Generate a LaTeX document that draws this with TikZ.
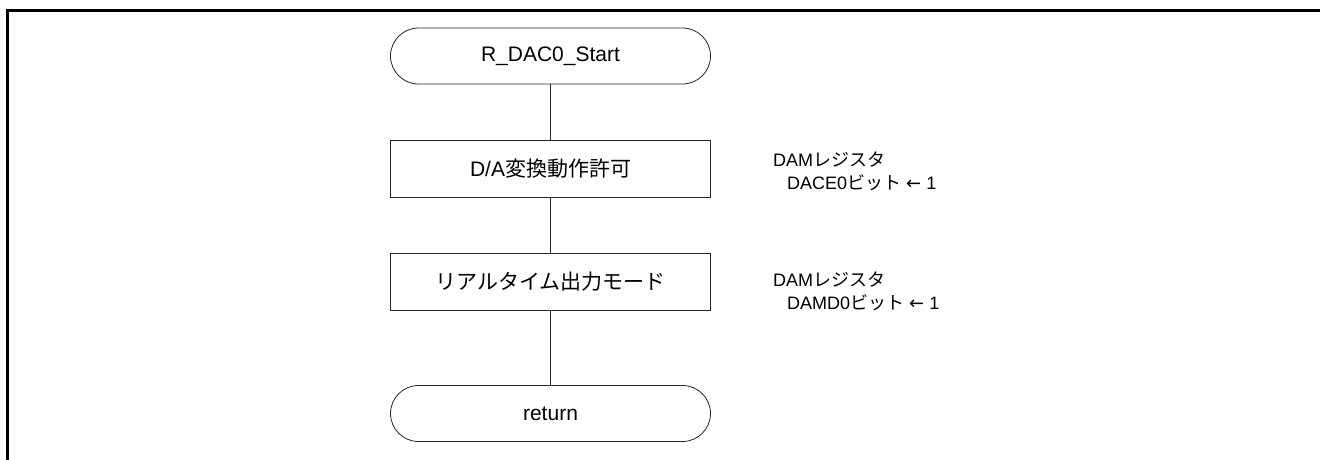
\documentclass[tikz,border=0pt]{standalone}
\usepackage{fontspec}
\setmainfont{Liberation Sans}
\newfontfamily\jp{Noto Sans CJK JP}
\newfontfamily\dv{DejaVu Sans}
\begin{document}
\begin{tikzpicture}[x=1pt,y=-1pt,
  every node/.style={inner sep=0pt, text=black},
  term/.style={draw=black!85, line width=0.8pt, rectangle, rounded corners=28pt,
    minimum width=320pt, minimum height=56pt, font=\fontsize{21}{24}\selectfont},
  proc/.style={draw=black!85, line width=0.8pt, rectangle,
    minimum width=320pt, minimum height=57pt, font=\fontsize{21}{24}\selectfont},
  note/.style={anchor=west, font=\fontsize{18}{21}\selectfont},
  conn/.style={draw=black!85, line width=0.8pt}]
\useasboundingbox (0,0) rectangle (1320,459);
\draw[line width=2.2pt] (7.5,460) -- (7.5,10.5) -- (1321,10.5);
\node[term] (start) at (550.5,56) {R\_DAC0\_Start};
\node[proc] (p1) at (550.5,169) {D/A{\jp 変換動作許可}};
\node[proc] (p2) at (550.5,282) {{\jp リアルタイム出力モード}};
\node[term] (ret) at (550.5,413.5) {return};
\node[note] (n1a) at (773,160) {DAM{\jp レジスタ}};
\node[note] (n1b) at (787,183) {DACE0{\jp ビット} {\dv ←} 1};
\node[note] (n2a) at (773,280) {DAM{\jp レジスタ}};
\node[note] (n2b) at (787,303) {DAMD0{\jp ビット} {\dv ←} 1};
\draw[conn] (start) -- (p1);
\draw[conn] (p1) -- (p2);
\draw[conn] (p2) -- (ret);
\end{tikzpicture}
\end{document}
